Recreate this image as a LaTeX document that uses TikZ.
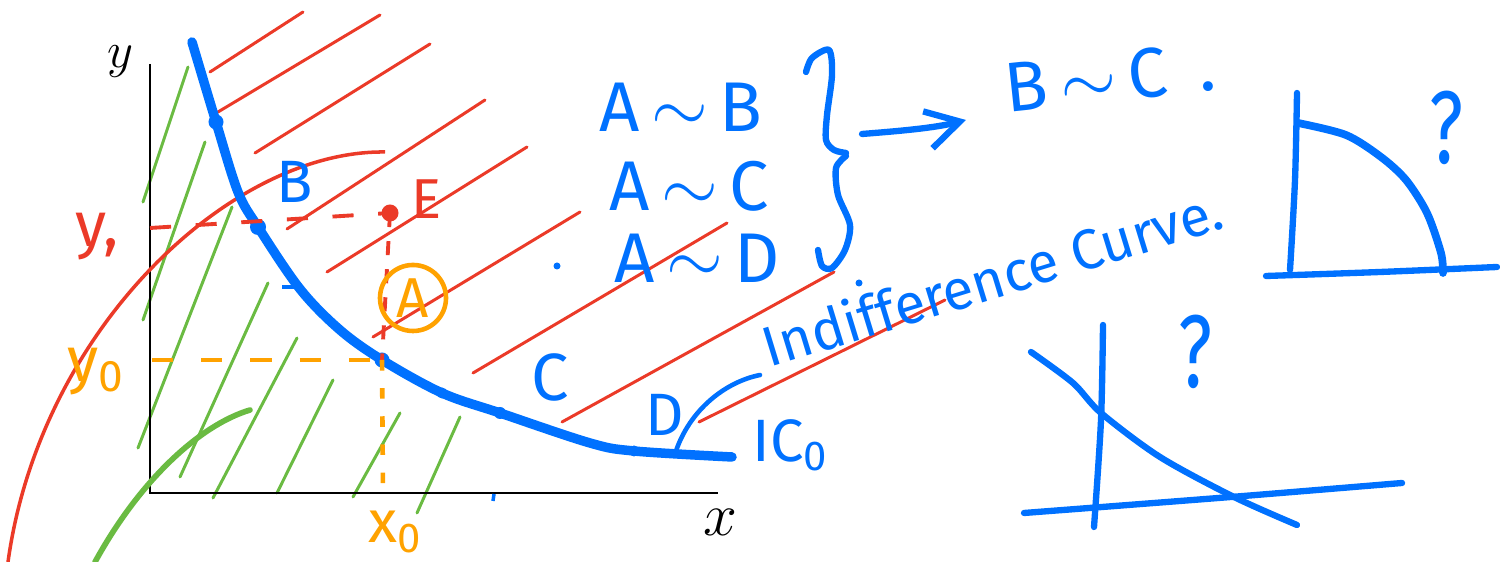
\documentclass[tikz,border=0pt]{standalone}
\usepackage{fontspec}
\usepackage{tikz}
\usetikzlibrary{arrows.meta}
\usetikzlibrary{calc}
\newfontfamily\handfont{Fira Sans}
\definecolor{inkblue}{RGB}{0,113,255}
\definecolor{inkred}{RGB}{235,58,40}
\definecolor{inkorange}{RGB}{255,162,0}
\definecolor{inkgreen}{RGB}{106,187,66}
\newcommand{\drawhatch}{\draw[line width=0.85pt, line cap=round]}
\newcommand{\drawsketch}{\draw[inkblue, line width=1.8pt, line cap=round, line join=round]}
\tikzset{
    hand/.style={inner sep=0pt, font=\handfont\fontsize{#1}{#1}\selectfont},
    hand/.default=18,
}

\begin{document}
\begin{tikzpicture}[x=0.01cm, y=-0.01cm]
    \useasboundingbox (0,0) rectangle (1500,562);

    % Draw hatching
    \foreach \ax/\ay/\bx/\by in {210/72/303/12, 218/112/380/15, 255/153/430/44,
        287/229/485/100, 327/272/527/147, 373/337/580/212, 473/373/727/223,
        562/422/834/272, 699/422/945/300} {
        \drawhatch[inkred] (\ax,\ay) -- (\bx,\by);
    }
    \foreach \ax/\ay/\bx/\by in {143/202/188/67, 143/320/205/142, 138/448/232/207,
        180/477/268/283, 213/498/297/338, 277/493/333/380, 353/497/400/413,
        417/513/460/417} {
        \drawhatch[inkgreen] (\ax,\ay) -- (\bx,\by);
    }

    % Draw axes
    \coordinate (O) at (150,493);
    \coordinate (ytop) at (150,64);
    \coordinate (xend) at (718,493);
    \draw[line width=0.8pt] (ytop) -- (O) -- (xend);
    \node (ylab) at (120,62) {\fontsize{15}{15}\selectfont$y$};
    \node (xlab) at (720,522) {\fontsize{16}{16}\selectfont$x$};

    % Draw other curves
    \draw[inkred, line width=1pt] (8,562) .. controls (40,330) and (230,150) .. (385,152);
    \draw[inkgreen, line width=1.6pt, line cap=round] (95,562) .. controls (140,480) and (200,425) .. (250,410);

    % Draw indifference curve
    \coordinate (P1) at (216,122);
    \coordinate (B) at (258,227);
    \coordinate (A) at (382,360);
    \coordinate (P2) at (442,393);
    \coordinate (C) at (500,413);
    \coordinate (D) at (634,451);
    \draw[inkblue, line width=2.7pt, line cap=round] plot[smooth, tension=0.55] coordinates {(192,42) (216,122) (238,192) (258,227) (300,289) (340,330) (382,360) (442,393) (500,413) (590,443) (634,451) (732,457)};
    \fill[inkblue] (P1) circle (0.75mm);
    \fill[inkblue] (B) circle (0.8mm);
    \fill[inkblue] (A) circle (0.75mm);
    \fill[inkblue] (P2) circle (0.55mm);
    \fill[inkblue] (C) circle (0.6mm);
    \fill[inkblue] (D) circle (0.55mm);
    \draw[inkblue, line width=1.2pt] (282,287) -- (298,287);
    \draw[inkblue, line width=1pt] (494,494) -- (493,501);

    % Draw guide lines
    \coordinate (E) at (390,213);
    \coordinate (y1) at (150,228);
    \coordinate (y0) at (152,360);
    \coordinate (x0) at (383,491);
    \draw[inkred, line width=1.1pt, dash pattern=on 6pt off 7pt] (y1) -- (E);
    \draw[inkred, line width=1.1pt, dash pattern=on 4pt off 4pt] (E) -- (A);
    \draw[inkorange, line width=1.3pt, dash pattern=on 6pt off 8pt] (y0) -- (A);
    \draw[inkorange, line width=1.3pt, dash pattern=on 3pt off 5pt] (A) -- (x0);
    \fill[inkred] (E) circle (0.85mm);

    % Labels
    \node[hand=17, text=inkblue] (Blab) at (295,182) {B};
    \node[hand=16, text=inkred] (Elab) at (427,199) {E};
    \node[hand=16, text=inkorange, circle, draw=inkorange, line width=1.3pt, minimum size=6.6mm] (Alab) at (413,298) {A};
    \node[hand=19, text=inkblue] (Clab) at (550,377) {C};
    \node[hand=17, text=inkblue] (Dlab) at (665,415) {D};
    \node[hand=17, text=inkblue, anchor=west] (IClab) at (752,445) {IC\textsubscript{0}};
    \node[hand=18, text=inkred] (y1lab) at (97,237) {y,};
    \node[hand=18, text=inkorange] (y0lab) at (96,372) {y\textsubscript{0}};
    \node[hand=17, text=inkorange] (x0lab) at (396,532) {x\textsubscript{0}};

    % Draw relations
    \node[hand=20, text=inkblue] (AB) at (681,107) {A\,$\sim$\,B};
    \node[hand=20, text=inkblue] (AC) at (689,186) {A\,$\sim$\,C};
    \node[hand=20, text=inkblue] (AD) at (697,258) {A\,$\sim$\,D};
    \fill[inkblue] (557,266) circle (0.35mm);
    \fill[inkblue] (859,283) circle (0.35mm);

    % Draw brace and arrow
    \drawsketch plot[smooth] coordinates {(806,72) (812,58) (829,50) (832,75) (827,115) (826,140) (834,150) (846,153)};
    \drawsketch plot[smooth] coordinates {(846,156) (836,168) (838,195) (850,225) (845,250) (832,268) (822,266) (818,250)};
    \coordinate (bracetip) at (862,134);
    \coordinate (arrowtip) at (966,120);
    \draw[inkblue, line width=1.8pt, line cap=round, -{Straight Barb[length=3.3mm, width=3.8mm]}] (bracetip) .. controls (900,131) and (935,128) .. (arrowtip);
    \node[hand=20, text=inkblue, rotate=6] (BC) at (1110,77) {B\,$\sim$\,C\;\,.};

    % Indifference curve label
    \node[hand=16, text=inkblue, rotate=17, anchor=base west] (IClabel) at (769,368) {Indifference Curve.};
    \coordinate (leadend) at (676,451);
    \draw[inkblue, line width=1.3pt, line cap=round] ($(IClabel.base west)+(-9,7)$) .. controls (725,382) and (690,410) .. (leadend);

    % Draw the two small sketches
    \drawsketch plot[smooth] coordinates {(1297,93) (1295,180) (1290,270)};
    \drawsketch plot[smooth] coordinates {(1266,276) (1380,272) (1497,267)};
    \drawsketch[line width=2.2pt] plot[smooth] coordinates {(1298,123) (1346,135) (1381,157) (1406,180) (1427,213) (1441,253) (1443,273)};
    \node[hand=21, text=inkblue] (q1) at (1446,128) {\scalebox{1}[1.4]{?}};
    \drawsketch plot[smooth] coordinates {(1103,325) (1101,420) (1094,527)};
    \drawsketch plot[smooth] coordinates {(1024,513) (1231,497) (1402,483)};
    \drawsketch plot[smooth] coordinates {(1031,352) (1073,383) (1101,413) (1160,457) (1234,497) (1297,525)};
    \node[hand=21, text=inkblue] (q2) at (1195,352) {\scalebox{1}[1.4]{?}};
\end{tikzpicture}
\end{document}
